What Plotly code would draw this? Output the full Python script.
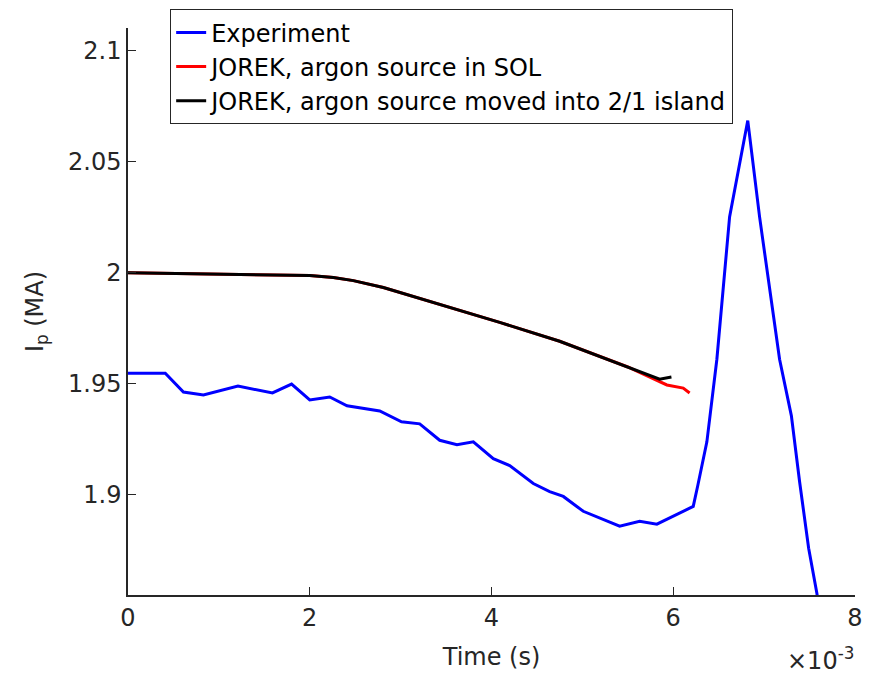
import plotly.graph_objects as go

# time in units of 1e-3 s
exp_t = [0.0, 0.41, 0.61, 0.83, 1.21, 1.59, 1.80, 2.0, 2.22, 2.41, 2.77, 3.01, 3.21, 3.43,
         3.62, 3.80, 4.02, 4.20, 4.46, 4.64, 4.79, 5.01, 5.41, 5.63, 5.82, 6.00, 6.22,
         6.27, 6.37, 6.48, 6.62, 6.82, 6.95, 7.17, 7.30, 7.39, 7.49, 7.58, 7.62]
exp_ip = [1.9547, 1.9547, 1.9462, 1.9449, 1.9489, 1.9458, 1.9498, 1.9427, 1.9440, 1.9400,
          1.9377, 1.9328, 1.9319, 1.9245, 1.9225, 1.9238, 1.9162, 1.9131, 1.9050, 1.9014,
          1.8992, 1.8925, 1.8858, 1.8880, 1.8867, 1.8902, 1.8947, 1.9041, 1.9238, 1.9610,
          2.0251, 2.0685, 2.0251, 1.9610, 1.9355, 1.9059, 1.8759, 1.8557, 1.8445]

sol_t = [0.0, 2.0, 2.26, 2.48, 2.81, 3.18, 3.54, 4.09, 4.75, 5.19, 5.50, 5.60, 5.93, 6.11, 6.18]
sol_ip = [2.0, 1.9987, 1.9978, 1.9964, 1.9933, 1.9888, 1.9843, 1.9776, 1.9691, 1.9624,
          1.9575, 1.9556, 1.9494, 1.9480, 1.9458]

isl_t = [0.0, 2.0, 2.26, 2.48, 2.81, 3.18, 3.54, 4.09, 4.75, 5.19, 5.56, 5.85, 5.98]
isl_ip = [2.0, 1.9987, 1.9978, 1.9964, 1.9933, 1.9888, 1.9843, 1.9776, 1.9691, 1.9624,
          1.9565, 1.9520, 1.9530]

x_ticks = [0, 2, 4, 6, 8]
y_ticks = [1.9, 1.95, 2.0, 2.05, 2.1]
y_tick_text = ["1.9", "1.95", "2", "2.05", "2.1"]

FONT = "DejaVu Sans"
AX = "#262626"

fig = go.Figure()
fig.add_trace(go.Scatter(x=exp_t, y=exp_ip, mode="lines", name="Experiment",
                         line=dict(color="#0000ff", width=3)))
fig.add_trace(go.Scatter(x=sol_t, y=sol_ip, mode="lines", name="JOREK, argon source in SOL",
                         line=dict(color="#ff0000", width=3)))
fig.add_trace(go.Scatter(x=isl_t, y=isl_ip, mode="lines",
                         name="JOREK, argon source moved into 2/1 island",
                         line=dict(color="#000000", width=3)))

fig.update_layout(
    width=866, height=667,
    paper_bgcolor="white", plot_bgcolor="white",
    margin=dict(l=120, r=19, t=20, b=80, autoexpand=False),
    font=dict(family=FONT, size=24, color=AX),
    showlegend=True,
    legend=dict(x=0.058, y=1.033, xanchor="left", yanchor="top",
                bordercolor=AX, borderwidth=1, bgcolor="white",
                font=dict(family=FONT, size=24, color="#000000"),
                tracegroupgap=0, itemwidth=30),
    xaxis=dict(range=[0, 8], tickvals=x_ticks, ticktext=[str(v) for v in x_ticks],
               ticks="inside", ticklen=8, tickcolor=AX, showline=True, linecolor=AX,
               linewidth=1.5, showgrid=False, zeroline=False, mirror=False,
               automargin=False,
               title=dict(text="Time (s)", standoff=18, font=dict(size=24))),
    yaxis=dict(range=[1.8548, 2.1102], tickvals=y_ticks, ticktext=y_tick_text,
               ticks="inside", ticklen=8, tickcolor=AX, showline=True, linecolor=AX,
               linewidth=1.5, showgrid=False, zeroline=False, mirror=False,
               automargin=False,
               title=dict(text="I<sub>p</sub> (MA)", standoff=18, font=dict(size=24))),
    annotations=[dict(text="×10<sup>-3</sup>", xref="paper", yref="paper",
                      x=1.0, y=-0.112, xanchor="right", yanchor="middle",
                      borderpad=0, showarrow=False,
                      font=dict(family=FONT, size=24, color=AX))],
)

fig.write_html("out.html")
